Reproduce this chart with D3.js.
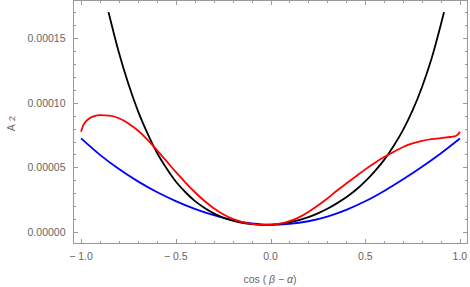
<!DOCTYPE html>
<html><head><meta charset="utf-8">
<script src="https://cdn.jsdelivr.net/npm/d3@7"></script>
<style>
html,body{margin:0;padding:0;background:#fff;}
svg{display:block;}
text{font-family:"Liberation Sans",Arial,sans-serif;fill:#666;}
</style></head>
<body>
<svg id="c" width="470" height="287"></svg>
<script>
// ---- data (A2 values) ----
const blackX = [-0.855,-0.8,-0.75,-0.7,-0.65,-0.6,-0.55,-0.5,-0.45,-0.4,-0.35,-0.3,-0.25,-0.2,-0.15,-0.1,-0.05,-0.03,0.0,0.05,0.1,0.15,0.2,0.25,0.3,0.35,0.4,0.45,0.5,0.55,0.6,0.65,0.7,0.75,0.8,0.85,0.916];
const blackY = [17.0e-5,13.86e-5,11.44e-5,9.37e-5,7.65e-5,6.15e-5,4.95e-5,3.91e-5,3.1e-5,2.41e-5,1.88e-5,1.45e-5,1.12e-5,0.89e-5,0.72e-5,0.61e-5,0.565e-5,0.56e-5,0.57e-5,0.64e-5,0.75e-5,0.93e-5,1.16e-5,1.45e-5,1.80e-5,2.22e-5,2.69e-5,3.25e-5,3.92e-5,4.7e-5,5.58e-5,6.65e-5,7.90e-5,9.4e-5,11.22e-5,13.4e-5,17.0e-5];

const redX = [-1.0,-0.99,-0.98,-0.96,-0.93,-0.9,-0.85,-0.8,-0.75,-0.7,-0.65,-0.6,-0.55,-0.5,-0.45,-0.4,-0.35,-0.3,-0.25,-0.2,-0.15,-0.1,-0.05,0.0,0.05,0.1,0.15,0.2,0.25,0.3,0.35,0.4,0.45,0.5,0.55,0.6,0.65,0.7,0.75,0.8,0.85,0.9,0.95,0.97,0.98,0.99,1.0];
const redY = [7.75e-5,8.2e-5,8.45e-5,8.75e-5,8.97e-5,9.04e-5,9.0e-5,8.8e-5,8.4e-5,7.85e-5,7.15e-5,6.34e-5,5.5e-5,4.65e-5,3.85e-5,3.1e-5,2.42e-5,1.85e-5,1.38e-5,1.02e-5,0.78e-5,0.63e-5,0.56e-5,0.57e-5,0.66e-5,0.85e-5,1.14e-5,1.55e-5,2.05e-5,2.6e-5,3.2e-5,3.75e-5,4.3e-5,4.85e-5,5.35e-5,5.8e-5,6.2e-5,6.58e-5,6.85e-5,7.05e-5,7.18e-5,7.27e-5,7.35e-5,7.4e-5,7.45e-5,7.55e-5,7.75e-5];

const blueX = [-1.0,-0.9,-0.8,-0.7,-0.6,-0.5,-0.4,-0.3,-0.2,-0.1,0.0,0.1,0.2,0.3,0.4,0.5,0.6,0.7,0.8,0.9,1.0];
const blueY = [7.24e-5,5.97e-5,4.87e-5,3.92e-5,3.10e-5,2.40e-5,1.80e-5,1.31e-5,0.93e-5,0.67e-5,0.56e-5,0.63e-5,0.84e-5,1.2e-5,1.72e-5,2.38e-5,3.18e-5,4.08e-5,5.05e-5,6.1e-5,7.24e-5];

const xMajorTicks = [-1.0,-0.5,0.0,0.5,1.0];
const xTickLabels = ["\u2212 1.0","\u2212 0.5","0.0","0.5","1.0"];
const yMajorTicks = [0,5e-5,10e-5,15e-5];
const yTickLabels = ["0.00000","0.00005","0.00010","0.00015"];

// ---- layout ----
const L = 73.5, R = 467.5, T = 0.5, B = 243.5;
const x = d3.scaleLinear().domain([-1.04, 1.04]).range([L, R]);
const y = d3.scaleLinear().domain([-0.88e-5, 17.9e-5]).range([B, T]);

const svg = d3.select("#c");
const frame = "#9a9a9a";

const xMinor = d3.range(-10, 11).map(i => i / 10).filter(v => Math.abs(v * 2 - Math.round(v * 2)) > 1e-9);
const yMinor = d3.range(0, 18).map(i => i * 1e-5).filter(v => Math.round(v / 1e-5) % 5 !== 0);

const g = svg.append("g");
g.append("rect").attr("x", L).attr("y", T).attr("width", R - L).attr("height", B - T)
  .attr("fill", "none").attr("stroke", frame).attr("stroke-width", 1);

function xt(vals, len) {
  vals.forEach(v => {
    const px = Math.round(x(v)) + 0.5;
    g.append("line").attr("x1", px).attr("x2", px).attr("y1", B).attr("y2", B - len).attr("stroke", frame);
    g.append("line").attr("x1", px).attr("x2", px).attr("y1", T).attr("y2", T + len).attr("stroke", frame);
  });
}
function yt(vals, len) {
  vals.forEach(v => {
    const py = Math.round(y(v)) + 0.5;
    g.append("line").attr("y1", py).attr("y2", py).attr("x1", L).attr("x2", L + len).attr("stroke", frame);
    g.append("line").attr("y1", py).attr("y2", py).attr("x1", R).attr("x2", R - len).attr("stroke", frame);
  });
}
xt(xMajorTicks, 4.5); xt(xMinor, 2.5);
yt(yMajorTicks, 4.5); yt(yMinor, 2.5);

xMajorTicks.forEach((v, i) => {
  g.append("text").attr("x", x(v)).attr("y", 259.5).attr("text-anchor", "middle")
    .attr("font-size", "10.5px").text(xTickLabels[i]);
});
yMajorTicks.forEach((v, i) => {
  g.append("text").attr("x", 65.5).attr("y", y(v) + 3.8).attr("text-anchor", "end")
    .attr("font-size", "10.5px").text(yTickLabels[i]);
});

const xl = g.append("text").attr("x", 270).attr("y", 283).attr("text-anchor", "middle").attr("font-size", "10.5px");
xl.append("tspan").text("cos ( ");
xl.append("tspan").attr("font-style", "italic").text("β");
xl.append("tspan").text(" \u2212 ");
xl.append("tspan").attr("font-style", "italic").text("α");
xl.append("tspan").text(")");

const yl = g.append("text").attr("transform", "translate(15,123.5) rotate(-90)").attr("text-anchor", "middle").attr("font-size", "10.5px");
yl.append("tspan").text("A");
yl.append("tspan").attr("font-size", "9.5px").attr("dx", 3).text("2");

const line = d3.line().x(d => x(d[0])).y(d => y(d[1])).curve(d3.curveMonotoneX);
const series = [
  {xs: blueX, ys: blueY, color: "#0000ff"},
  {xs: blackX, ys: blackY, color: "#000000"},
  {xs: redX, ys: redY, color: "#ff0000"}
];
series.forEach(s => {
  svg.append("path").datum(s.xs.map((v, i) => [v, s.ys[i]]))
    .attr("d", line).attr("fill", "none").attr("stroke", s.color).attr("stroke-width", 1.8);
});
</script>
</body></html>
